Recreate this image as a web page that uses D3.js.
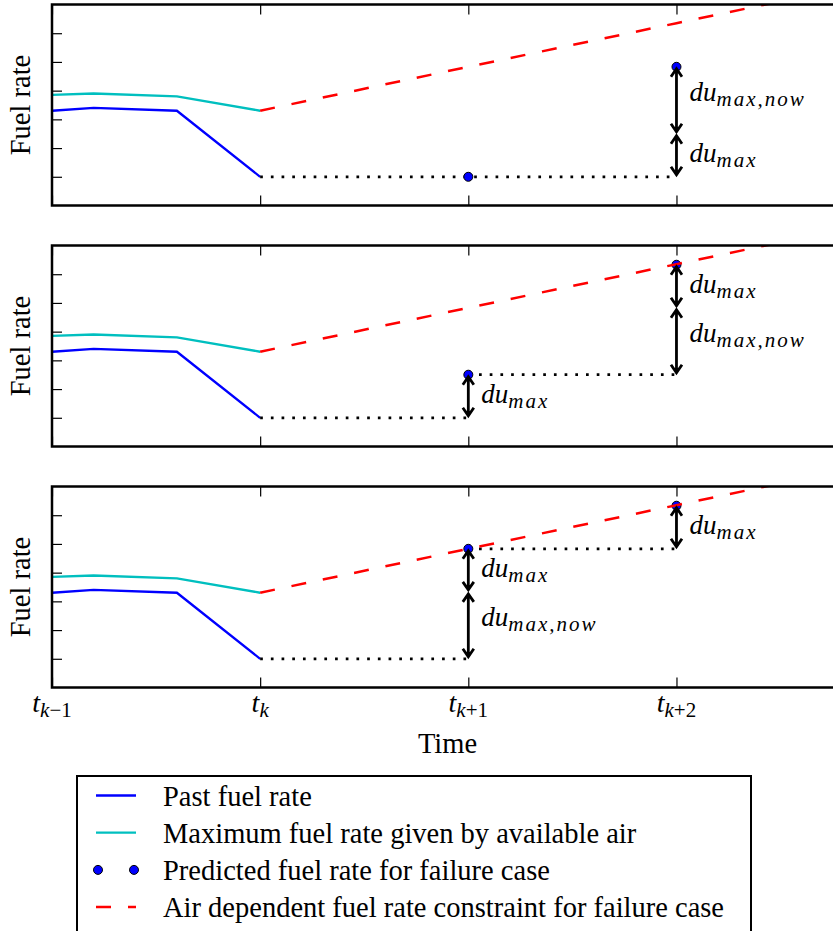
<!DOCTYPE html>
<html>
<head>
<meta charset="utf-8">
<script src="https://cdn.jsdelivr.net/npm/d3@7"></script>
<style>
  body { margin: 0; background: #fff; }
  svg { display: block; }
</style>
</head>
<body>
<script>
// ---- data ----
const timeTicks = [0, 1, 2, 3];
const tickSubs = ["k\u22121", "k", "k+1", "k+2"];
const fuelTicks = [1, 2, 3, 4, 5, 6];

const pastX = [0, 0.2, 0.6, 1];
const pastFuel = [3.3, 3.4, 3.3, 1.0];
const maxFuelAir = [3.85, 3.9, 3.8, 3.3];

const constraintX = [1, 2, 3, 4];
const constraintFuel = [3.3, 4.83, 6.35, 7.87];

// predicted fuel rate at t_{k+1}, t_{k+2} for each of the three scenarios
const predictedX = [2, 3];
const predictedFuel = [
  [1.0, 4.83],
  [2.5, 6.33],
  [4.83, 6.33]
];

// held levels drawn dotted: [from, to, level]
const heldLevels = [
  [[1, 3, 1.0]],
  [[1, 2, 1.0], [2, 3, 2.5]],
  [[1, 2, 1.0], [2, 3, 4.83]]
];

// rate-limit steps: [time, lower, upper, subscript]
const rateSteps = [
  [[3, 1.0, 2.5, "max"], [3, 2.5, 4.83, "max,now"]],
  [[2, 1.0, 2.5, "max"], [3, 2.5, 4.83, "max,now"], [3, 4.83, 6.33, "max"]],
  [[2, 1.0, 3.33, "max,now"], [2, 3.33, 4.83, "max"], [3, 4.83, 6.33, "max"]]
];

const legendLabels = [
  "Past fuel rate",
  "Maximum fuel rate given by available air",
  "Predicted fuel rate for failure case",
  "Air dependent fuel rate constraint for failure case"
];

// ---- layout ----
const W = 833, H = 931;
const left = 52, right = 843;
const panelTops = [4.5, 245.5, 486.5];
const panelH = 201;
const FONT = "'Liberation Serif', 'DejaVu Serif', serif";

const BLUE = "#0000ff", CYAN = "#00bfbf", RED = "#ff0000";

const svg = d3.select("body").append("svg")
  .attr("width", W).attr("height", H)
  .attr("font-family", FONT);

const x = d3.scaleLinear().domain([0, 3.8]).range([left, right]);

const line = (xs, ys, yScale) => d3.line()
  .x((d, i) => x(xs[i]))
  .y((d, i) => yScale(ys[i]))(ys);

panelTops.forEach((top, p) => {
  const y = d3.scaleLinear().domain([0, 7]).range([top + panelH, top]);
  const g = svg.append("g");

  const clipId = "clip" + p;
  svg.append("clipPath").attr("id", clipId)
    .append("rect").attr("x", left).attr("y", top)
    .attr("width", right - left).attr("height", panelH);

  const plot = g.append("g").attr("clip-path", `url(#${clipId})`);

  // past and air-limited fuel rate
  plot.append("path").attr("d", line(pastX, pastFuel, y))
    .attr("fill", "none").attr("stroke", BLUE).attr("stroke-width", 2.3);
  plot.append("path").attr("d", line(pastX, maxFuelAir, y))
    .attr("fill", "none").attr("stroke", CYAN).attr("stroke-width", 2.3);

  // held levels
  heldLevels[p].forEach(([a, b, v]) => {
    plot.append("line")
      .attr("x1", x(a)).attr("x2", x(b))
      .attr("y1", y(v)).attr("y2", y(v))
      .attr("stroke", "#000").attr("stroke-width", 2.7)
      .attr("stroke-dasharray", "2.7,8");
  });

  // predicted points
  predictedFuel[p].forEach((v, i) => {
    plot.append("circle")
      .attr("cx", x(predictedX[i])).attr("cy", y(v)).attr("r", 4.5)
      .attr("fill", BLUE).attr("stroke", "#000").attr("stroke-width", 1);
  });

  // air dependent constraint
  plot.append("path").attr("d", line(constraintX, constraintFuel, y))
    .attr("fill", "none").attr("stroke", RED).attr("stroke-width", 2.5)
    .attr("stroke-dasharray", "15,17");

  // rate-limit arrows and labels
  rateSteps[p].forEach(([t, lo, hi, sub]) => {
    const xa = x(t);
    const tTop = y(hi) + 2, tBot = y(lo) - 2;
    const hw = 5.5, hl = 8;
    g.append("path")
      .attr("d", `M${xa},${tTop}L${xa},${tBot}` +
        `M${xa - hw},${tTop + hl}L${xa},${tTop}L${xa + hw},${tTop + hl}` +
        `M${xa - hw},${tBot - hl}L${xa},${tBot}L${xa + hw},${tBot - hl}`)
      .attr("fill", "none").attr("stroke", "#000").attr("stroke-width", 2.8);
    const mid = (y(hi) + y(lo)) / 2;
    const lbl = g.append("text")
      .attr("x", xa + 13)
      .attr("y", mid + (sub === "max" ? 7 : 0.5))
      .attr("font-size", 27).attr("font-style", "italic");
    lbl.append("tspan").text("du");
    lbl.append("tspan").attr("dy", 5).attr("font-size", 21)
      .attr("letter-spacing", 2).text(sub);
  });

  // ticks (inward)
  const tickStyle = sel => {
    sel.select(".domain").remove();
    sel.selectAll(".tick line").attr("stroke", "#000").attr("stroke-width", 1.2);
  };
  g.append("g").attr("transform", `translate(${left},0)`)
    .call(d3.axisLeft(y).tickValues(fuelTicks).tickSize(-10).tickFormat(""))
    .call(tickStyle);
  g.append("g").attr("transform", `translate(${right},0)`)
    .call(d3.axisRight(y).tickValues(fuelTicks).tickSize(-10).tickFormat(""))
    .call(tickStyle);
  g.append("g").attr("transform", `translate(0,${top})`)
    .call(d3.axisTop(x).tickValues(timeTicks).tickSize(-10).tickFormat(""))
    .call(tickStyle);
  g.append("g").attr("transform", `translate(0,${top + panelH})`)
    .call(d3.axisBottom(x).tickValues(timeTicks).tickSize(-10).tickFormat(""))
    .call(tickStyle);

  // frame
  g.append("rect")
    .attr("x", left).attr("y", top)
    .attr("width", right - left).attr("height", panelH)
    .attr("fill", "none").attr("stroke", "#000").attr("stroke-width", 2.5);

  // y label
  g.append("text")
    .attr("transform", `translate(30,${top + panelH / 2}) rotate(-90)`)
    .attr("text-anchor", "middle")
    .attr("font-size", 28.5)
    .text("Fuel rate");
});

// time tick labels under the last panel
const lastBottom = panelTops[2] + panelH;
timeTicks.forEach((t, i) => {
  const lbl = svg.append("text")
    .attr("x", x(t)).attr("y", lastBottom + 24)
    .attr("text-anchor", "middle")
    .attr("font-size", 28);
  lbl.append("tspan").attr("font-style", "italic").text("t");
  const s = tickSubs[i];
  lbl.append("tspan").attr("dy", 5).attr("font-size", 21)
    .attr("font-style", "italic").text(s.charAt(0));
  if (s.length > 1) {
    lbl.append("tspan").attr("font-size", 21).text(s.slice(1));
  }
});

svg.append("text")
  .attr("x", (left + right) / 2).attr("y", lastBottom + 65)
  .attr("text-anchor", "middle")
  .attr("font-size", 28.5)
  .text("Time");

// legend
const lg = svg.append("g");
lg.append("rect")
  .attr("x", 77).attr("y", 776).attr("width", 674).attr("height", 170)
  .attr("fill", "#fff").attr("stroke", "#000").attr("stroke-width", 2);

const rowY = i => 795.5 + i * 37.2;
const hx0 = 96, hx1 = 136;

lg.append("line").attr("x1", hx0).attr("x2", hx1)
  .attr("y1", rowY(0)).attr("y2", rowY(0))
  .attr("stroke", BLUE).attr("stroke-width", 2.3);
lg.append("line").attr("x1", hx0).attr("x2", hx1)
  .attr("y1", rowY(1)).attr("y2", rowY(1))
  .attr("stroke", CYAN).attr("stroke-width", 2.3);
[hx0 + 2, hx1 - 2].forEach(cx => {
  lg.append("circle").attr("cx", cx).attr("cy", rowY(2)).attr("r", 4.5)
    .attr("fill", BLUE).attr("stroke", "#000").attr("stroke-width", 1);
});
lg.append("line").attr("x1", hx0).attr("x2", hx1)
  .attr("y1", rowY(3)).attr("y2", rowY(3))
  .attr("stroke", RED).attr("stroke-width", 2.5)
  .attr("stroke-dasharray", "15,17");

legendLabels.forEach((txt, i) => {
  lg.append("text")
    .attr("x", 163).attr("y", rowY(i) + 10)
    .attr("font-size", 28.5)
    .text(txt);
});
</script>
</body>
</html>
